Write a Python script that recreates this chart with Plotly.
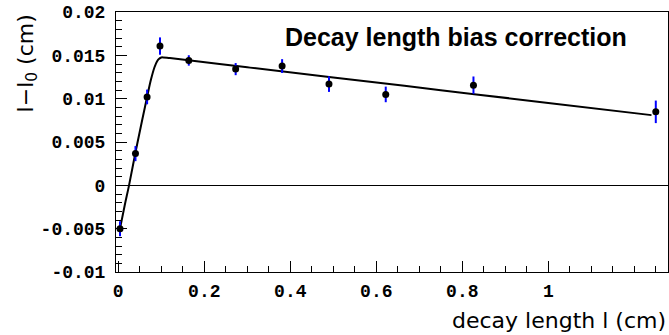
import plotly.graph_objects as go

# data points
decay_len = [0.004, 0.040, 0.067, 0.097, 0.164, 0.273, 0.381, 0.490, 0.622, 0.826, 1.250]
bias = [-0.0050, 0.00366, 0.0102, 0.01607, 0.01441, 0.01341, 0.01376, 0.01168, 0.01049, 0.01156, 0.00848]
bias_err = [0.00087, 0.00087, 0.00085, 0.0010, 0.0006, 0.0007, 0.0008, 0.0009, 0.0009, 0.0010, 0.0013]

# fit curve
fit_x = [0.004, 0.015, 0.025, 0.040, 0.055, 0.067, 0.076, 0.084, 0.090, 0.095, 0.100, 0.105, 0.12, 0.30, 0.50, 0.75, 1.00, 1.24]
fit_y = [-0.0050, -0.0023, 0.0, 0.0038, 0.0074, 0.0102, 0.0122, 0.0136, 0.0143, 0.0146, 0.01475, 0.01476, 0.01468, 0.01362, 0.01245, 0.01098, 0.00951, 0.0081]

x_ticks = [0, 0.2, 0.4, 0.6, 0.8, 1]
x_ticklabels = ["0", "0.2", "0.4", "0.6", "0.8", "1"]
y_ticks = [-0.01, -0.005, 0, 0.005, 0.01, 0.015, 0.02]
y_ticklabels = ["-0.01", "-0.005", "0", "0.005", "0.01", "0.015", "0.02"]

fig = go.Figure()
fig.add_trace(go.Scatter(x=fit_x, y=fit_y, mode="lines", line=dict(color="black", width=2),
                         line_shape="spline", showlegend=False, hoverinfo="skip"))
fig.add_trace(go.Scatter(
    x=decay_len, y=bias, mode="markers",
    marker=dict(color="black", size=7),
    error_y=dict(type="data", array=bias_err, color="#0000ff", thickness=2, width=0),
    showlegend=False))

tickfont = dict(family="Liberation Mono", size=18, color="black", weight="bold")
fig.update_layout(
    width=669, height=335,
    margin=dict(l=116, r=1, t=12, b=63),
    plot_bgcolor="white", paper_bgcolor="white",
    xaxis=dict(range=[-0.0053, 1.2784], tickvals=x_ticks, ticktext=x_ticklabels,
               ticks="inside", ticklen=11, tickwidth=1, tickcolor="black",
               minor=dict(dtick=0.05, tick0=0, ticks="inside", ticklen=6, tickcolor="black"),
               showline=True, linecolor="black", linewidth=1, mirror=True,
               showgrid=False, zeroline=False, tickfont=tickfont, ticklabelstandoff=2),
    yaxis=dict(range=[-0.01, 0.02], tickvals=y_ticks, ticktext=y_ticklabels,
               ticks="inside", ticklen=11, tickwidth=1, tickcolor="black",
               minor=dict(dtick=0.001, tick0=0, ticks="inside", ticklen=6, tickcolor="black"),
               showline=True, linecolor="black", linewidth=1, mirror=True,
               showgrid=False, zeroline=True, zerolinecolor="black", zerolinewidth=1,
               tickfont=tickfont, ticklabelstandoff=6),
    annotations=[
        dict(text="<b>Decay length bias correction</b>", x=0.383, y=0.0171, xref="x", yref="y",
             xanchor="left", yanchor="middle", showarrow=False,
             font=dict(family="Liberation Sans", size=25, color="black")),
        dict(text="l\u2212l<sub>0</sub> (cm)", x=-0.161, y=0.999, xref="paper", yref="paper",
             xanchor="center", yanchor="top", textangle=-90, showarrow=False,
             font=dict(family="DejaVu Sans", size=22, color="black")),
        dict(text="decay length l (cm)", x=1.0, y=-0.185, xref="paper", yref="paper",
             xanchor="right", yanchor="middle", showarrow=False,
             font=dict(family="DejaVu Sans", size=22, color="black")),
    ],
)
fig.write_html("out.html")
